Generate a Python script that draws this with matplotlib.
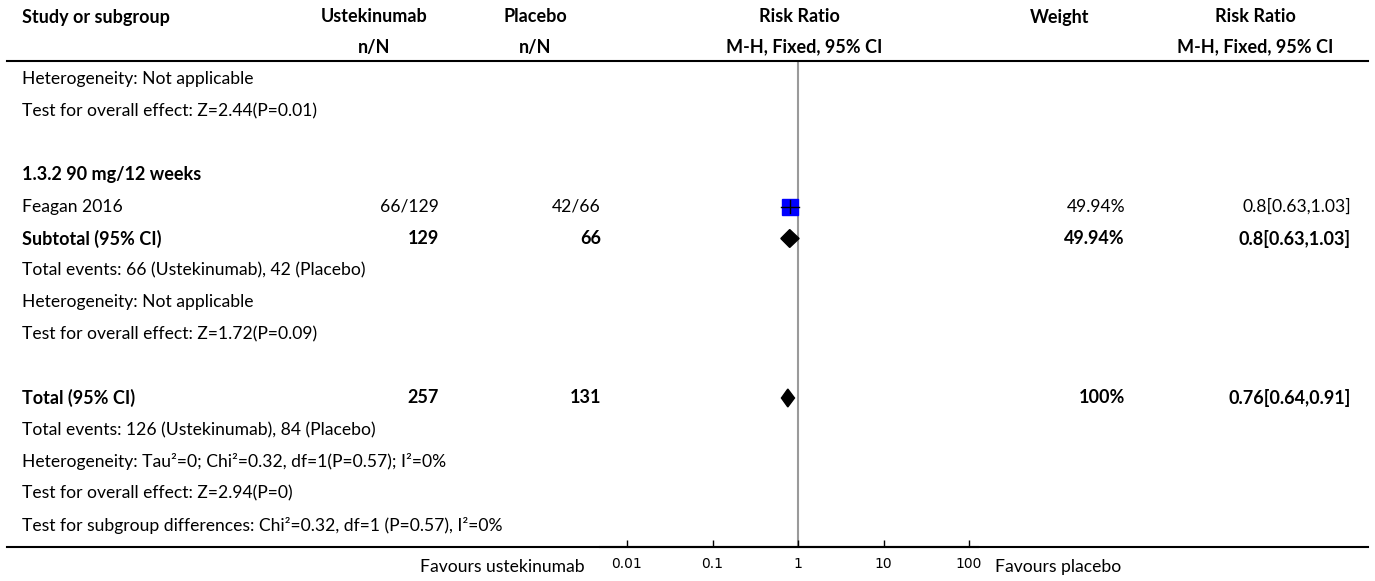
import numpy as np
import matplotlib
matplotlib.use("Agg")
import matplotlib.pyplot as plt
from matplotlib.transforms import blended_transform_factory
from matplotlib.lines import Line2D

plt.rcParams['font.family'] = ['Lato', 'DejaVu Sans']

# table rows (text in first column, bold flag)
row_labels = [
    "Heterogeneity: Not applicable",
    "Test for overall effect: Z=2.44(P=0.01)",
    "",
    "1.3.2 90 mg/12 weeks",
    "Feagan 2016",
    "Subtotal (95% CI)",
    "Total events: 66 (Ustekinumab), 42 (Placebo)",
    "Heterogeneity: Not applicable",
    "Test for overall effect: Z=1.72(P=0.09)",
    "",
    "Total (95% CI)",
    "Total events: 126 (Ustekinumab), 84 (Placebo)",
    "Heterogeneity: Tau\u00b2=0; Chi\u00b2=0.32, df=1(P=0.57); I\u00b2=0%",
    "Test for overall effect: Z=2.94(P=0)",
    "Test for subgroup differences: Chi\u00b2=0.32, df=1 (P=0.57), I\u00b2=0%",
]
bold_rows = [3, 5, 10]

# study / summary data
ustek = {4: "66/129", 5: "129", 10: "257"}
placebo = {4: "42/66", 5: "66", 10: "131"}
weights = {4: "49.94%", 5: "49.94%", 10: "100%"}
rr_text = {4: "0.8[0.63,1.03]", 5: "0.8[0.63,1.03]", 10: "0.76[0.64,0.91]"}

study_rows = [4]
study_rr = [0.8]
study_lo = [0.63]
study_hi = [1.03]

diamond_rows = [5, 10]
diamond_rr = [0.8, 0.76]
diamond_lo = [0.63, 0.64]
diamond_hi = [1.03, 0.91]

ticks = [0.01, 0.1, 1, 10, 100]
tick_labels = ["0.01", "0.1", "1", "10", "100"]

W, H = 1375, 581
fig = plt.figure(figsize=(W / 100, H / 100), dpi=100)

# forest axes: x from 600px to 978px, y from 61px to 547px
row0, step = 79, 31.9
ax = fig.add_axes([600 / W, 1 - 547 / H, 378 / W, (547 - 61) / H])
ax.set_xscale("log")
ax.set_xlim(10 ** (-2 - 27 / 85.5), 10 ** (2 + 9 / 85.5))
ax.set_ylim((547 - row0) / step, (61 - row0) / step)
for s in ["top", "left", "right"]:
    ax.spines[s].set_visible(False)
ax.spines["bottom"].set_linewidth(1.5)
ax.set_yticks([])
ax.set_xticks(ticks)
ax.set_xticklabels(tick_labels, fontfamily="DejaVu Sans", fontsize=10)
ax.minorticks_off()
ax.tick_params(axis="x", direction="in", length=5, width=1, pad=7)
ax.patch.set_alpha(0)

# line of no effect
ax.axvline(1, color="#9a9a9a", lw=1.5, zorder=1)

# study square + CI
for r, m, lo, hi in zip(study_rows, study_rr, study_lo, study_hi):
    ax.plot([m], [r], marker="s", ms=12, color="#0000ff", mec="#0000ff", zorder=2)
    ax.plot([lo, hi], [r, r], color="black", lw=1, zorder=3)
    ax.plot([m, m], [r - 0.2, r + 0.2], color="black", lw=1, zorder=3)

# summary diamonds
for r, m, lo, hi in zip(diamond_rows, diamond_rr, diamond_lo, diamond_hi):
    ax.fill([lo, m, hi, m], [r, r - 0.28, r, r + 0.28], color="black", zorder=3)

tr = blended_transform_factory(fig.transFigure, ax.transData)
fs = 12.6
fsb = 13


def px(x):
    return x / W


def put(x, y, s, ha, bold=False):
    ax.text(px(x), y, s, transform=tr, ha=ha, va="center",
            fontsize=fsb if bold else fs, fontweight="bold" if bold else "normal")


# headers
hy1 = (17 - row0) / step
hy2 = (47 - row0) / step
put(22, hy1, "Study or subgroup", "left", True)
put(374, hy1, "Ustekinumab", "center", True)
put(374, hy2, "n/N", "center", True)
put(535, hy1, "Placebo", "center", True)
put(535, hy2, "n/N", "center", True)
put(799, hy1, "Risk Ratio", "center", True)
put(804, hy2, "M-H, Fixed, 95% CI", "center", True)
put(1060, hy1, "Weight", "center", True)
put(1255, hy1, "Risk Ratio", "center", True)
put(1255, hy2, "M-H, Fixed, 95% CI", "center", True)

# rows
for i, lab in enumerate(row_labels):
    b = i in bold_rows
    if lab:
        put(22, i, lab, "left", b)
    if i in ustek:
        put(439, i, ustek[i], "right", b)
        put(601, i, placebo[i], "right", b)
        put(1125, i, weights[i], "right", b)
        put(1351, i, rr_text[i], "right", b)

# rules
fig.add_artist(Line2D([7 / W, 1368 / W], [1 - 61 / H, 1 - 61 / H], color="black", lw=1.5))
fig.add_artist(Line2D([7 / W, 1368 / W], [1 - 547 / H, 1 - 547 / H], color="black", lw=1.5))

# favours labels
fig.text(px(585), 1 - 567 / H, "Favours ustekinumab", ha="right", va="center", fontsize=fs)
fig.text(px(995), 1 - 567 / H, "Favours placebo", ha="left", va="center", fontsize=fs)

fig.savefig("out.png", dpi=100)
